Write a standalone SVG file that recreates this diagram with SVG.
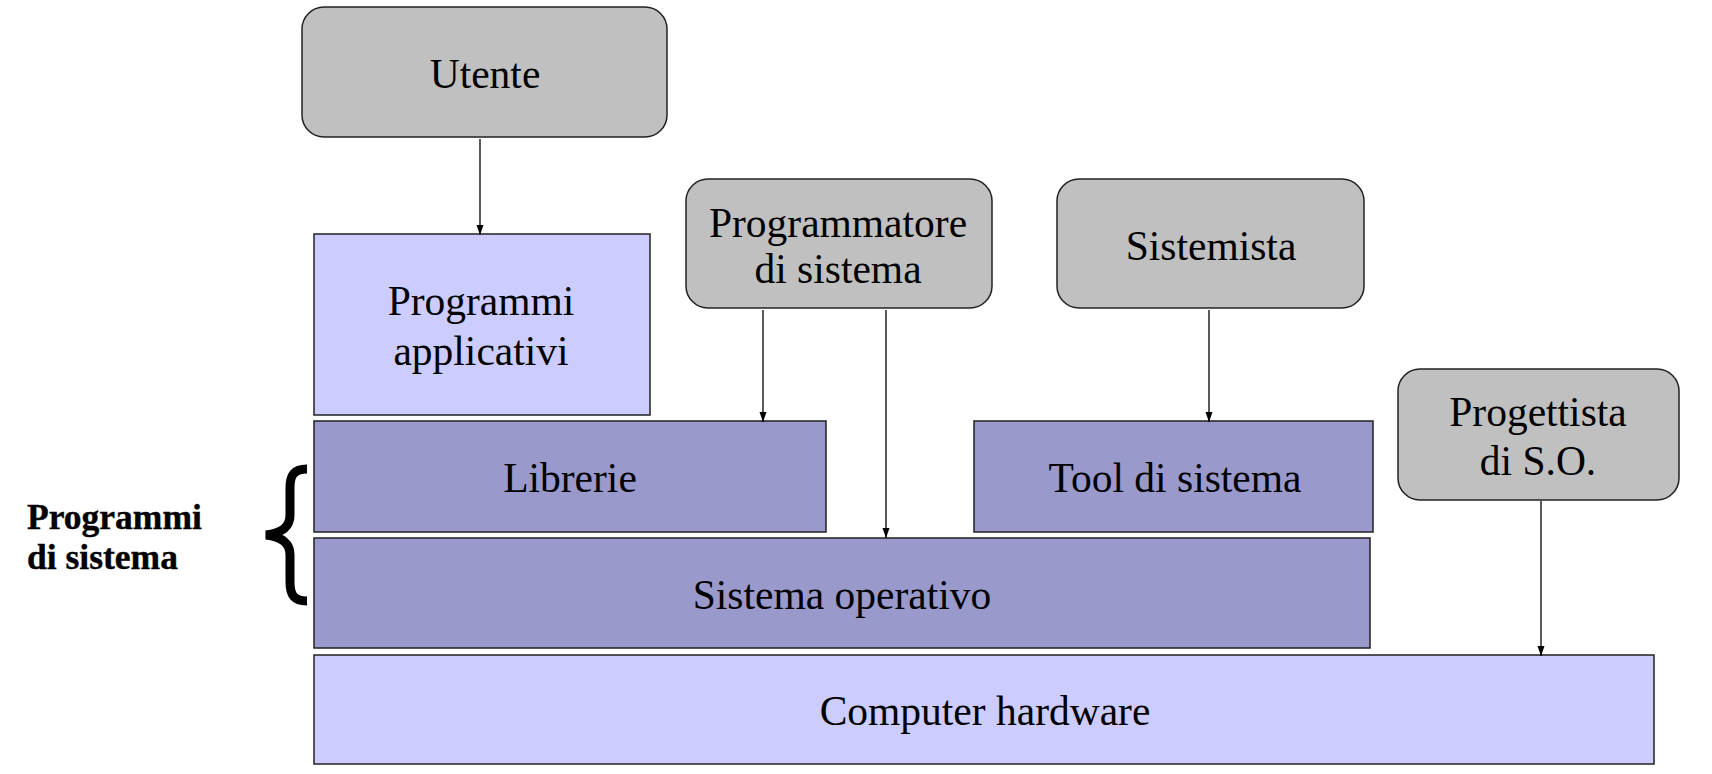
<svg xmlns="http://www.w3.org/2000/svg" width="1712" height="774" viewBox="0 0 1712 774">
<style>
.actor{fill:#C0C0C0;stroke:#222;stroke-width:1.5}
.light{fill:#CCCCFF;stroke:#222;stroke-width:1.5}
.dark{fill:#9999CC;stroke:#222;stroke-width:1.5}
text{font-family:"Liberation Serif","Times New Roman",serif;font-size:41.5px;fill:#000;text-anchor:middle}
.bold{font-weight:bold;font-size:35.5px;text-anchor:start;stroke:#000;stroke-width:0.4}
.conn{stroke:#000;stroke-width:1.3;fill:none;marker-end:url(#arr)}
</style>
<defs>
<marker id="arr" viewBox="0 0 10 10" refX="10" refY="5" markerWidth="10" markerHeight="10" markerUnits="userSpaceOnUse" orient="auto">
<path d="M0,1.5 L10,5 L0,8.5 Z" fill="#000"/>
</marker>
</defs>
<rect width="1712" height="774" fill="#fff"/>
<g id="utente"><rect class="actor" x="302" y="7" width="365" height="130" rx="22"/><text x="485" y="88">Utente</text></g>
<g id="programmatore"><rect class="actor" x="686" y="179" width="306" height="129" rx="22"/><text x="838" y="237">Programmatore</text><text x="838" y="283">di sistema</text></g>
<g id="sistemista"><rect class="actor" x="1057" y="179" width="307" height="129" rx="22"/><text x="1211" y="260">Sistemista</text></g>
<g id="progettista"><rect class="actor" x="1398" y="369" width="281" height="131" rx="22"/><text x="1538" y="426">Progettista</text><text x="1538" y="475">di S.O.</text></g>
<g id="applicativi"><rect class="light" x="314" y="234" width="336" height="181"/><text x="481" y="315">Programmi</text><text x="481" y="365">applicativi</text></g>
<g id="librerie"><rect class="dark" x="314" y="421" width="512" height="111"/><text x="570" y="492">Librerie</text></g>
<g id="tool"><rect class="dark" x="974" y="421" width="399" height="111"/><text x="1175" y="492">Tool di sistema</text></g>
<g id="so"><rect class="dark" x="314" y="538" width="1056" height="110"/><text x="842" y="609">Sistema operativo</text></g>
<g id="hardware"><rect class="light" x="314" y="655" width="1340" height="109"/><text x="985" y="725">Computer hardware</text></g>
<g id="programmi-sistema"><text class="bold" x="27" y="529">Programmi</text><text class="bold" x="27" y="569">di sistema</text>
<path d="M307 469 C294 469 290 475 290 488 L290 515 C290 527 282 533 266 535 C282 537 290 543 290 555 L290 582 C290 595 294 601 307 601" fill="none" stroke="#000" stroke-width="9"/></g>
<g id="connectors">
<line class="conn" x1="480" y1="139" x2="480" y2="235"/>
<line class="conn" x1="763" y1="310" x2="763" y2="422"/>
<line class="conn" x1="886" y1="310" x2="886" y2="538"/>
<line class="conn" x1="1209" y1="310" x2="1209" y2="422"/>
<line class="conn" x1="1541" y1="501" x2="1541" y2="656"/>
</g>
</svg>
